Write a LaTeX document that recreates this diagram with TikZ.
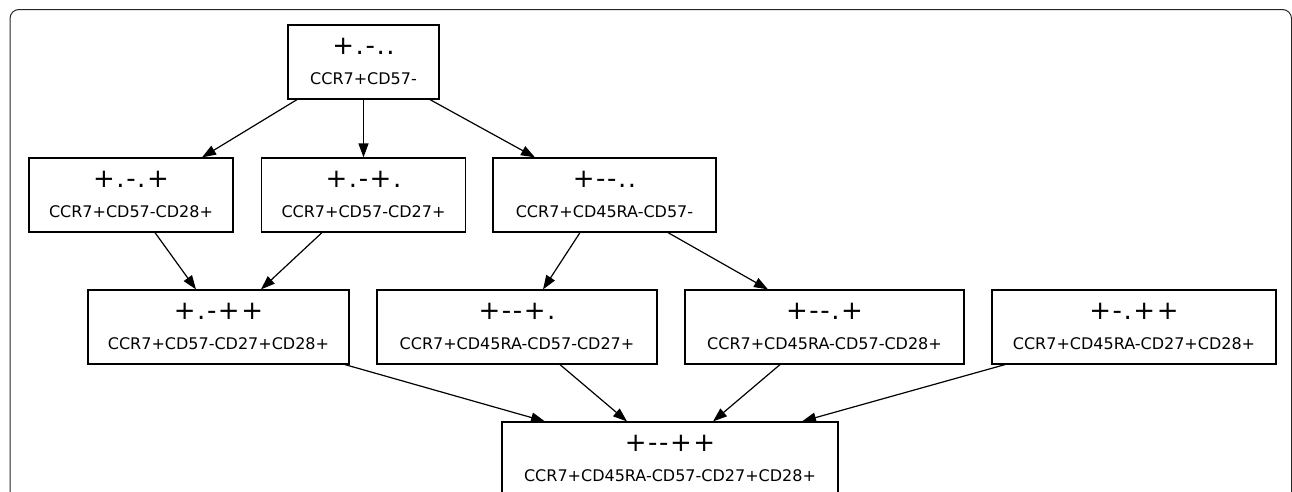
\documentclass[tikz,border=0pt]{standalone}
\usepackage{fontspec}
\setmainfont{DejaVu Sans}
\newfontfamily\bigfamily[LetterSpace=6]{DejaVu Sans}
\usetikzlibrary{arrows.meta}
\newcommand\bigtxt{\bigfamily\fontsize{26}{30}\selectfont}
\newcommand\smalltxt{\fontsize{16}{19}\selectfont}
\tikzset{
  box/.style={draw, line width=1.2pt, minimum height=74pt, inner sep=0pt},
  bigl/.style={yshift=16pt, font=\bigtxt, inner sep=0pt},
  smalll/.style={yshift=-17pt, font=\smalltxt, inner sep=0pt},
  edge/.style={line width=1.2pt, -{Triangle[length=14pt,width=10pt]}},
  frame/.style={draw, line width=1pt, black!85, rounded corners=9pt}
}
\begin{document}
\begin{tikzpicture}[x=1pt,y=-1pt]
\useasboundingbox (0,0) rectangle (1292,491);
\clip (0,0) rectangle (1292,491);
\draw[frame] (10,9.5) rectangle (1291.5,620);

\node[box, minimum width=151pt, label={[bigl]center:+.-..}, label={[smalll]center:CCR7+CD57-}] (top) at (363.5,62) {};
\node[box, minimum width=204pt, label={[bigl]center:+.-.+}, label={[smalll]center:CCR7+CD57-CD28+}] (A) at (131,195) {};
\node[box, minimum width=204pt, label={[bigl]center:+.-+.}, label={[smalll]center:CCR7+CD57-CD27+}] (B) at (363.5,195) {};
\node[box, minimum width=223pt, label={[bigl]center:+--..}, label={[smalll]center:CCR7+CD45RA-CD57-}] (C) at (604.5,195) {};
\node[box, minimum width=261pt, label={[bigl]center:+.-++}, label={[smalll]center:CCR7+CD57-CD27+CD28+}] (D) at (218.5,327) {};
\node[box, minimum width=280pt, label={[bigl]center:+--+.}, label={[smalll]center:CCR7+CD45RA-CD57-CD27+}] (E) at (517,327) {};
\node[box, minimum width=279pt, label={[bigl]center:+--.+}, label={[smalll]center:CCR7+CD45RA-CD57-CD28+}] (F) at (824.5,327) {};
\node[box, minimum width=284pt, label={[bigl]center:+-.++}, label={[smalll]center:CCR7+CD45RA-CD27+CD28+}] (G) at (1134,327) {};
\node[box, minimum width=336pt, label={[bigl]center:+--++}, label={[smalll]center:CCR7+CD45RA-CD57-CD27+CD28+}] (H) at (670,459) {};

\draw[edge] ([xshift=-66.5pt]top.south) -- ([xshift=71pt]A.north);
\draw[edge] (top.south) -- (B.north);
\draw[edge] ([xshift=66.5pt]top.south) -- ([xshift=-69.5pt]C.north);
\draw[edge] ([xshift=24pt]A.south) -- ([xshift=-22.5pt]D.north);
\draw[edge] ([xshift=-41.5pt]B.south) -- ([xshift=42.5pt]D.north);
\draw[edge] ([xshift=-24.5pt]C.south) -- ([xshift=26pt]E.north);
\draw[edge] ([xshift=63.5pt]C.south) -- ([xshift=-56.5pt]F.north);
\draw[edge] ([xshift=126.5pt]D.south) -- ([xshift=-125pt]H.north);
\draw[edge] ([xshift=43pt]E.south) -- ([xshift=-43pt]H.north);
\draw[edge] ([xshift=-44.5pt]F.south) -- ([xshift=43pt]H.north);
\draw[edge] ([xshift=-129pt]G.south) -- ([xshift=132pt]H.north);
\end{tikzpicture}
\end{document}
